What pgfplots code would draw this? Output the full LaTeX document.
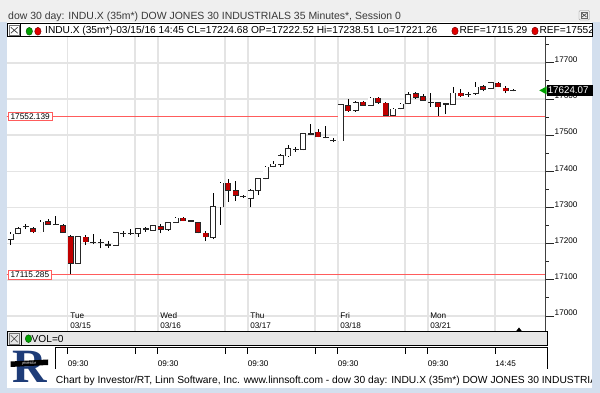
\documentclass[border=0pt]{standalone}
\usepackage{fontspec}
\setmainfont{Liberation Sans}
\newfontfamily\seriffont{Liberation Serif}
\usepackage{pgfplots}
\usepackage{pgfplotstable}
\pgfplotsset{compat=1.18}
\definecolor{framec}{HTML}{D3DFEE}
\definecolor{titlebg}{HTML}{EFEFEF}
\definecolor{candlered}{HTML}{C00000}
\definecolor{refred}{HTML}{FF5C5C}
\definecolor{gridc}{HTML}{E4E4E4}
\definecolor{volbg}{HTML}{E6E6E6}
\definecolor{logoblue}{HTML}{1E3C78}
\definecolor{ballgreen}{HTML}{00A000}
\definecolor{ballred}{HTML}{E00000}

\pgfplotstableread{
i o h l c
-8 17212 17233 17196 17226
-7 17229 17247 17226 17240.5
-6 17247 17253.5 17240.5 17247
-5 17240.5 17247 17228.6 17233
-4 17233 17265 17231 17259
-3 17260.7 17268 17251.6 17253.5
-2 17253.5 17277 17251.6 17253.5
-1 17249 17253.5 17231 17231.4
0 17219 17224 17115.3 17145.7
1 17145.7 17222 17145 17219
2 17217.6 17224 17196 17205.4
3 17204 17226 17198 17204
4 17204 17212 17187 17204
5 17196 17207 17189 17196
6 17196 17233 17194 17230
7 17228.6 17236 17219 17228.6
8 17228.6 17240 17224 17228.6
9 17228.6 17242.5 17219 17240
10 17240.5 17247 17233 17240.5
11 17237.8 17251.6 17236 17249
12 17247 17254 17228.6 17240.5
13 17240.5 17260.7 17235 17258
14 17259 17273 17258 17270
15 17270 17274.5 17262.6 17263.5
16 17262.6 17265 17260 17262.6
17 17258 17260.7 17228.6 17231.4
18 17228.6 17235 17207 17219
19 17217.6 17339 17212 17302
20 17302 17371 17251.6 17367
21 17367 17378 17316 17348
22 17345.6 17373 17318 17334.5
23 17330 17335 17326 17330
24 17325 17350 17300 17345.6
25 17348 17381 17334.5 17379
26 17381 17414 17378 17411
27 17414 17428.5 17411 17419
28 17419.4 17448 17413 17442
29 17443 17473 17440 17461.7
30 17461 17468.5 17454 17461
31 17461.7 17506 17458.6 17503
32 17503 17531 17500 17503
33 17508 17517 17494 17496
34 17494 17526 17491 17494
35 17485 17491 17480 17485
36 17485 17586 17485 17583.5
37 17581.5 17599 17565 17567.6
38 17569.5 17595 17565 17589.7
39 17591 17595 17581 17583.5
40 17583.5 17604.5 17581 17601.8
41 17601.8 17605 17587 17590.8
42 17588 17592.5 17553 17555.7
43 17555.7 17574 17553 17571.5
44 17574 17590 17571.5 17585
45 17588 17618.5 17586 17611
46 17614 17620 17600 17606
47 17606 17614 17597 17597
48 17591 17617 17579 17591
49 17590 17592 17553 17579
50 17586 17588 17558 17586
51 17585 17632 17583.5 17615.6
52 17615.6 17628 17606 17609
53 17613 17620.6 17606 17613
54 17615.6 17646 17611 17632
55 17634 17640 17621 17627.6
56 17629.5 17648 17627 17645
57 17643 17646 17632 17634
58 17629.5 17636 17616 17623
59 17624.07 17629 17621 17624.07
}\candles

\begin{document}
\begin{tikzpicture}
\path[use as bounding box] (0,0) rectangle (600bp,393bp);
% ---------- window background ----------
\begin{scope}[x=1bp,y=-1bp,yshift=393bp]
  \fill[framec] (0,0) rectangle (600,393);
  \fill[titlebg] (0,0) rectangle (600,22.5);
  \fill[white] (7,22.5) rectangle (591.5,388);
  \node[anchor=base west, inner sep=0, text=black!78, font=\fontsize{10.5}{12}\selectfont] at (8,19.3)
    {dow 30 day: INDU.X (35m*) DOW JONES 30 INDUSTRIALS 35 Minutes*, Session 0};
  % close button
  \draw[black!45, fill=black!6, rounded corners=1.2bp] (579,10.5) rectangle (589.5,20);
  \draw[black!60, line width=0.6bp] (581,12.5) rectangle (587.5,18);
  \draw[black!70, line width=0.7bp] (582,13.5) -- (586.5,17) (586.5,13.5) -- (582,17);
\end{scope}

\begin{axis}[
  at={(7bp,62bp)}, anchor=south west,
  width=538.7bp, height=294bp, scale only axis,
  xmin=-8.493, xmax=63.333, ymin=16958.5, ymax=17771.4,
  scaled x ticks=false, scaled y ticks=false,
  axis line style={draw=none},
  xtick={-0.4,8.6,11.6,20.6,23.6,32.6,35.6,44.6,47.6,56.6},
  xticklabels={},
  xtick style={draw=none},
  xmajorgrids, ymajorgrids,
  major grid style={draw=gridc, line width=1.6bp},
  ytick={17000,17100,17200,17300,17400,17500,17600,17700},
  yticklabels={17000,17100,17200,17300,17400,17500,17600,17700},
  minor ytick={16950,17050,17150,17250,17350,17450,17550,17650,17750},
  ytick pos=right,
  yticklabel pos=right,
  tick align=outside,
  major tick length=8.3bp, minor tick length=3bp,
  ytick style={draw=black!85, line width=0.9bp},
  yticklabel style={font=\fontsize{8.2}{9}\selectfont, anchor=west, yshift=3bp, inner sep=0.5bp, text=black},
  clip=true,
]
% reference lines
\addplot[refred, line width=1bp] coordinates {(-9,17552.139) (64,17552.139)};
\addplot[refred, line width=1bp] coordinates {(-9,17115.285) (64,17115.285)};
% wicks
\addplot[draw=none, error bars/.cd, y dir=plus, y explicit, error mark=none,
  error bar style={draw=black, line width=1bp}]
  table[x=i, y=l, y error plus expr={\thisrow{h}-\thisrow{l}}] {\candles};
% body outline
\addplot[draw=none, error bars/.cd, y dir=plus, y explicit, error mark=none,
  error bar style={draw=black!85, line width=6bp}]
  table[x=i, y expr={min(\thisrow{o},\thisrow{c})-1.94}, y error plus expr={abs(\thisrow{c}-\thisrow{o})+3.88}] {\candles};
% white bodies
\addplot[draw=none, error bars/.cd, y dir=plus, y explicit, error mark=none,
  error bar style={draw=white, line width=4.5bp}]
  table[x=i, y expr={min(\thisrow{o},\thisrow{c})}, y error plus expr={max(\thisrow{c}-\thisrow{o},0)}] {\candles};
% red bodies
\addplot[draw=none, error bars/.cd, y dir=plus, y explicit, error mark=none,
  error bar style={draw=candlered, line width=4.5bp}]
  table[x=i, y expr={min(\thisrow{o},\thisrow{c})}, y error plus expr={max(\thisrow{o}-\thisrow{c},0)}] {\candles};
\end{axis}

% ---------- overlays ----------
\begin{scope}[x=1bp,y=-1bp,yshift=393bp]
  % legend bar
  \draw[fill=white, draw=black, line width=1bp] (7.5,23.5) rectangle (592.7,36.5);
  \draw[black!55, line width=0.6bp] (9,25.5) rectangle (19.5,35);
  \draw[black!75, line width=0.7bp] (10.8,27.3) -- (17.7,33.2) (17.7,27.3) -- (10.8,33.2);
  \draw[black, line width=0.8bp] (20.8,23.5) -- (20.8,36.5);
  \filldraw[fill=ballgreen, draw=green!30!black, line width=0.4bp] (29.3,31.3) ellipse (3.2bp and 3.9bp);
  \filldraw[fill=ballred, draw=red!40!black, line width=0.4bp] (37.9,31.3) ellipse (3.2bp and 3.9bp);
  \begin{scope}
    \clip (7.5,23.5) rectangle (592,36.5);
    \node[anchor=base west, inner sep=0, font=\fontsize{10.2}{12}\selectfont] at (45,34)
      {INDU.X (35m*)-03/15/16 14:45 CL=17224.68 OP=17222.52 Hi=17238.51 Lo=17221.26};
    \filldraw[fill=ballred, draw=red!40!black, line width=0.4bp] (455,31) ellipse (3.2bp and 3.9bp);
    \node[anchor=base west, inner sep=0, font=\fontsize{10.2}{12}\selectfont] at (459.3,34) {REF=17115.29};
    \filldraw[fill=ballred, draw=red!40!black, line width=0.4bp] (535,31) ellipse (3.2bp and 3.9bp);
    \node[anchor=base west, inner sep=0, font=\fontsize{10.2}{12}\selectfont] at (539.3,34) {REF=17552.14};
  \end{scope}
  % right axis line
  \draw[black!75, line width=1bp] (545.7,37) -- (545.7,331.5);
  % ref labels
  \node[draw=refred, fill=white, line width=0.9bp, inner xsep=2.6bp, inner ysep=1.3bp, anchor=west,
        font=\fontsize{8.3}{9}\selectfont] at (7.6,116.3) {17552.139};
  \node[draw=refred, fill=white, line width=0.9bp, inner xsep=2.6bp, inner ysep=1.3bp, anchor=west,
        font=\fontsize{8.3}{9}\selectfont] at (7.6,275) {17115.285};
  % last price box
  \fill[black] (546.6,85) rectangle (593,96);
  \node[anchor=west, inner sep=0, text=white, font=\fontsize{9.8}{11}\selectfont] at (547.6,90.6) {17624.07};
  \fill[ballgreen] (539.3,90.4) -- (546.6,86.4) -- (546.6,94.4) -- cycle;
  % day labels
  \foreach \xx/\dd/\mm in {70.2/Tue/03\slash15, 160.2/Wed/03\slash16, 250.2/Thu/03\slash17, 340.2/Fri/03\slash18, 430.2/Mon/03\slash21}{
    \node[anchor=base west, inner sep=0, font=\fontsize{8.2}{9}\selectfont] at (\xx,318.5) {\dd};
    \node[anchor=base west, inner sep=0, font=\fontsize{8.2}{9}\selectfont] at (\xx,329) {\mm};
  }
  % current bar marker
  \fill[black] (515.5,332) -- (522.5,332) -- (519,327.5) -- cycle;
  % VOL bar
  \draw[fill=volbg, draw=black, line width=1bp] (7.5,332) rectangle (547,345.5);
  \draw[black!55, line width=0.6bp] (9,333.5) rectangle (19.5,344);
  \draw[black!75, line width=0.7bp] (10.8,335.3) -- (17.7,342.2) (17.7,335.3) -- (10.8,342.2);
  \draw[black, line width=0.8bp] (21.5,332) -- (21.5,345.5);
  \filldraw[fill=ballgreen, draw=green!30!black, line width=0.4bp] (28.5,338.7) ellipse (3.2bp and 3.9bp);
  \node[anchor=base west, inner sep=0, font=\fontsize{10.2}{12}\selectfont] at (31.5,342.5) {VOL=0};
  % time axis
  \draw[black, line width=1bp] (55.8,369) -- (55.8,348) -- (547,348) -- (547,369);
  \foreach \tx in {67.7,135.2,157.7,225.2,247.7,315.2,337.7,405.2,427.7,495.2}{
    \draw[black, line width=1bp] (\tx,348) -- (\tx,354);
  }
  \foreach \tx/\tl in {67.7/09:30,157.7/09:30,247.7/09:30,337.7/09:30,427.7/09:30,495.2/14:45}{
    \node[anchor=base west, inner sep=0, font=\fontsize{8.2}{9}\selectfont] at (\tx,366.3) {\tl};
  }
  % footer
  \begin{scope}
    \clip (0,370) rectangle (591.5,393);
    \node[anchor=base west, inner sep=0, font=\fontsize{10.3}{12}\selectfont] at (55.8,383.3)
      {Chart by Investor/RT, Linn Software, Inc. www.linnsoft.com - dow 30 day: INDU.X (35m*) DOW JONES 30 INDUSTRIALS};
  \end{scope}
  % logo
  \node[anchor=base west, inner sep=0, text=logoblue, font=\seriffont\bfseries\fontsize{48}{48}\selectfont] at (12.5,383) {R};
  \fill[black] (10.5,361.5) -- (48,359.5) -- (48,365) -- (10.5,367) -- cycle;
  \node[text=white, inner sep=0, font=\fontsize{4}{4}\selectfont\itshape, rotate=3] at (29,363.3) {Investor};
\end{scope}
\end{tikzpicture}
\end{document}
